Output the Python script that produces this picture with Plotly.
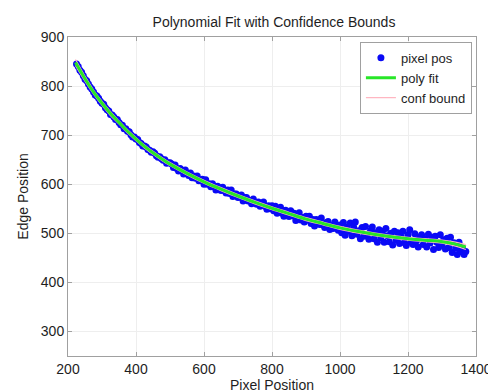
import plotly.graph_objects as go

# ---- data ----
pix_x = [225, 230, 235, 240, 245, 250, 255, 260, 265, 270, 275, 280, 285, 290, 295, 300,
         305, 310, 315, 320, 325, 330, 335, 340, 345, 350, 355, 360, 365, 370, 375, 380,
         385, 390, 395, 400, 405, 410, 415, 420, 425, 430, 435, 440, 445, 450, 455, 460,
         465, 470, 475, 480, 485, 490, 495, 500, 505, 510, 515, 520, 525, 530, 535, 540,
         545, 550, 555, 560, 565, 570, 575, 580, 585, 590, 595, 600, 605, 610, 615, 620,
         625, 630, 635, 640, 645, 650, 655, 660, 665, 670, 675, 680, 685, 690, 695, 700,
         705, 710, 715, 720, 725, 730, 735, 740, 745, 750, 755, 760, 765, 770, 775, 780,
         785, 790, 795, 800, 805, 810, 815, 820, 825, 830, 835, 840, 845, 850, 855, 860,
         865, 870, 875, 880, 885, 890, 895, 900, 905, 910, 915, 920, 925, 930, 935, 940,
         945, 950, 955, 960, 965, 970, 975, 980, 985, 990, 995, 1000, 1005, 1010, 1015, 1020,
         1025, 1030, 1035, 1040, 1045, 1050, 1055, 1060, 1065, 1070, 1075, 1080, 1085, 1090, 1095, 1100,
         1105, 1110, 1115, 1120, 1125, 1130, 1135, 1140, 1145, 1150, 1155, 1160, 1165, 1170, 1175, 1180,
         1185, 1190, 1195, 1200, 1205, 1210, 1215, 1220, 1225, 1230, 1235, 1240, 1245, 1250, 1255, 1260,
         1265, 1270, 1275, 1280, 1285, 1290, 1295, 1300, 1305, 1310, 1315, 1320, 1325, 1330, 1335, 1340,
         1345, 1350, 1355, 1360, 1365, 1370]
pix_y = [845, 840, 832, 828, 821, 814, 811, 804, 798, 794, 788, 782, 780, 775, 769, 765,
         763, 756, 752, 749, 742, 741, 737, 732, 732, 726, 721, 720, 713, 713, 708, 707,
         701, 696, 696, 692, 691, 685, 683, 678, 678, 676, 671, 669, 665, 666, 663, 658,
         655, 656, 652, 649, 650, 643, 644, 644, 641, 634, 639, 632, 627, 632, 628, 621,
         629, 623, 618, 623, 613, 617, 612, 617, 607, 608, 610, 600, 609, 600, 601, 595,
         601, 595, 588, 596, 593, 587, 594, 587, 582, 588, 581, 588, 575, 580, 580, 573,
         574, 578, 566, 573, 573, 566, 567, 560, 570, 564, 559, 564, 555, 560, 564, 555,
         549, 556, 550, 556, 546, 555, 541, 548, 553, 541, 535, 547, 541, 534, 546, 536,
         541, 526, 537, 542, 527, 532, 523, 535, 527, 535, 520, 528, 515, 528, 525, 518,
         531, 517, 512, 522, 524, 508, 516, 510, 523, 511, 506, 517, 501, 522, 496, 513,
         504, 521, 495, 513, 523, 498, 505, 489, 512, 494, 514, 498, 488, 505, 513, 489,
         501, 482, 507, 491, 504, 482, 510, 495, 483, 500, 476, 504, 487, 501, 479, 493,
         504, 481, 475, 497, 507, 482, 477, 499, 485, 472, 492, 497, 477, 489, 472, 498,
         480, 492, 467, 494, 482, 471, 497, 476, 487, 468, 490, 471, 492, 461, 481, 470,
         457, 482, 463, 470, 457, 463]

fit_x = [222, 250, 275, 300, 325, 350, 375, 400, 425, 450, 475, 500, 550, 600, 650,
         700, 750, 800, 850, 900, 950, 1000, 1050, 1100, 1150, 1200, 1250, 1300, 1340, 1370]
fit_y = [848, 815, 788, 765, 744, 726, 708, 692, 677, 664, 652, 641, 622, 605, 590,
         576, 563, 551, 540, 529, 520, 511, 504, 498, 493, 489, 486, 483, 478, 472]
conf_upper = [854, 820, 792, 769, 748, 729, 711, 695, 680, 667, 655, 644, 625, 608, 593,
              579, 566, 554, 543, 532, 523, 514, 507, 501, 496, 492, 489, 486, 482, 477]
conf_lower = [842, 810, 784, 761, 740, 723, 705, 689, 674, 661, 649, 638, 619, 602, 587,
              573, 560, 548, 537, 526, 517, 508, 501, 495, 490, 486, 483, 480, 474, 467]

x_ticks = [200, 400, 600, 800, 1000, 1200, 1400]
y_ticks = [300, 400, 500, 600, 700, 800, 900]

FONT = "Liberation Sans, Arial, sans-serif"
TXT = "#1e1e1e"

fig = go.Figure()
fig.add_trace(go.Scatter(
    x=pix_x, y=pix_y, mode="markers", name="pixel pos",
    marker=dict(color="rgb(10,10,245)", size=7, line=dict(width=0)),
    legendrank=1))
fig.add_trace(go.Scatter(
    x=fit_x, y=conf_upper, mode="lines", name="conf bound",
    line=dict(color="rgb(255,182,193)", width=1.2, shape="spline"),
    legendrank=3))
fig.add_trace(go.Scatter(
    x=fit_x, y=conf_lower, mode="lines", name="conf bound", showlegend=False,
    line=dict(color="rgb(255,182,193)", width=1.2, shape="spline")))
fig.add_trace(go.Scatter(
    x=fit_x, y=fit_y, mode="lines", name="poly fit",
    line=dict(color="rgb(40,230,40)", width=3, shape="spline"),
    legendrank=2))

axis_common = dict(
    showline=True, linecolor="#a0a0a0", linewidth=1, mirror="ticks",
    ticks="inside", ticklen=4, tickcolor="#a0a0a0",
    showgrid=True, gridcolor="#eeeeee", gridwidth=1,
    zeroline=False, tickfont=dict(family=FONT, size=14, color=TXT),
)

fig.update_layout(
    width=496, height=392,
    margin=dict(l=60, r=24, t=29, b=38),
    paper_bgcolor="white", plot_bgcolor="white",
    font=dict(family=FONT, size=14, color=TXT),
    title=dict(text="Polynomial Fit with Confidence Bounds", x=266 / 496, xanchor="center",
               y=1 - 14 / 392, yanchor="middle", font=dict(family=FONT, size=14, color=TXT)),
    xaxis=dict(range=[200, 1400], tickvals=x_ticks,
               title=dict(text="Pixel Position", standoff=1, font=dict(family=FONT, size=14)),
               **axis_common),
    yaxis=dict(range=[250, 900], tickvals=y_ticks,
               title=dict(text="Edge Position", standoff=8, font=dict(family=FONT, size=14)),
               **axis_common),
    legend=dict(x=0.99, y=0.985, xanchor="right", yanchor="top",
                bgcolor="white", bordercolor="#a0a0a0", borderwidth=1,
                font=dict(family=FONT, size=13, color=TXT),
                itemwidth=30, tracegroupgap=0),
    showlegend=True,
)

fig.write_html("out.html")
